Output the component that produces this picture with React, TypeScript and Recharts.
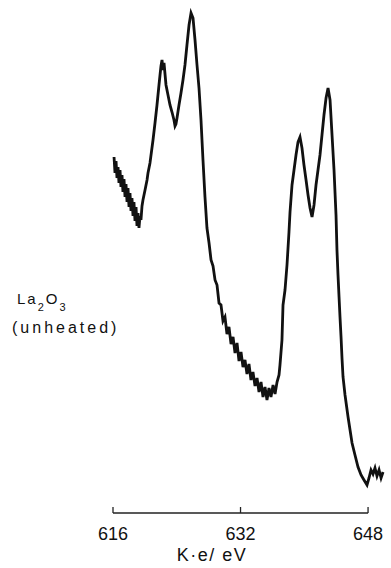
import { LineChart, Line, XAxis, YAxis, ReferenceLine } from "recharts";

// La 3d XPS region, kinetic energy (eV) against counts (arb. units)
const energy = [
  616.13, 616.25, 616.38, 616.5, 616.63, 616.75, 616.88, 617.0, 617.13, 617.25,
  617.38, 617.51, 617.63, 617.76, 617.88, 618.01, 618.13, 618.26, 618.38, 618.51,
  618.63, 618.76, 618.89, 619.01, 619.14, 619.26, 619.39, 619.51, 619.64, 619.76,
  620.02, 620.27, 620.39, 620.64, 621.02, 621.27, 621.52, 621.77, 621.9, 622.02,
  622.15, 622.27, 622.4, 622.65, 622.9, 623.15, 623.4, 623.65, 623.78, 623.9,
  624.03, 624.28, 624.53, 624.78, 625.03, 625.28, 625.54, 625.79, 626.04, 626.29,
  626.54, 626.79, 627.04, 627.29, 627.54,
  627.79, 628.05, 628.3, 628.55, 628.8, 629.05, 629.3, 629.55, 629.8, 630.05,
  630.3, 630.55, 630.81, 631.06, 631.31, 631.56, 631.81, 632.06, 632.31, 632.56,
  632.81, 633.06, 633.31, 633.56, 633.82, 634.07, 634.32, 634.57, 634.82, 635.07,
  635.32, 635.57, 635.82, 636.08, 636.33, 636.58, 636.83,
  636.95, 637.2, 637.33, 637.58, 637.83, 638.08,
  638.21, 638.46, 638.71, 638.96, 639.21, 639.46, 639.71, 639.96, 640.22, 640.47,
  640.72, 640.97, 641.22, 641.47, 641.72, 641.97, 642.22, 642.47, 642.73, 642.98,
  643.23, 643.48, 643.73, 643.98, 644.1, 644.23, 644.36, 644.48, 644.61, 644.73,
  644.86, 645.11, 645.49, 645.74, 645.99, 646.36, 646.74, 647.12, 647.49, 647.87,
  648.12, 648.37, 648.62, 648.87, 649.12, 649.38, 649.63, 649.88,
];

const counts = [
  356, 340, 352, 335, 346, 330, 343, 326, 338, 321,
  334, 316, 329, 311, 325, 306, 320, 302, 315, 297,
  311, 292, 306, 287, 300, 285, 297, 293, 307, 313,
  323, 333, 340, 350, 373, 390, 408, 428, 438, 447,
  453, 443, 450, 428, 418, 408, 401, 393, 387, 389,
  395, 408, 420, 433, 448, 468, 488, 500, 495, 473,
  448, 425, 393, 353, 316,
  285, 270, 253, 247, 233, 228, 210, 208, 192, 196,
  179, 186, 169, 176, 160, 170, 152, 161, 146, 153,
  139, 149, 133, 141, 127, 135, 121, 131, 116, 126,
  113, 125, 116, 128, 119, 131, 138,
  148, 173, 208, 223, 248, 281,
  301, 328, 343, 358, 371, 376, 365, 348, 333, 318,
  305, 296, 308, 328, 343, 358, 378, 398, 415, 425,
  413, 378, 343, 298, 263, 238, 216, 196, 176, 155,
  136, 118, 96, 83, 70, 58, 46, 38, 33, 28,
  35, 43, 39, 45, 37, 43, 35, 41,
];

const ticks = [616, 632, 648];

const data = energy.map((e, i) => ({ e, c: counts[i] }));

const font = "'Liberation Sans', Arial, sans-serif";

function Tick({ x, y, payload }: any) {
  return (
    <g>
      <line x1={x} y1={y} x2={x} y2={y - 6} stroke="#222" strokeWidth={1.3} />
      <text x={x} y={y + 27} textAnchor="middle" fontSize={18} fontFamily={font} fill="#111">
        {payload.value}
      </text>
    </g>
  );
}

export default function App() {
  return (
    <div style={{ position: "absolute", left: 0, top: 0, width: 391, height: 568, background: "#fff" }}>
      <LineChart width={391} height={568} data={data} margin={{ top: 8, right: 7, left: 113, bottom: 0 }}>
        <XAxis
          dataKey="e"
          type="number"
          domain={[616, 650]}
          ticks={ticks}
          axisLine={false}
          tickLine={false}
          tickSize={0}
          tickMargin={0}
          tick={<Tick />}
          height={55}
          interval={0}
        />
        <YAxis hide domain={[0, 505]} />
        <ReferenceLine
          segment={[{ x: 616, y: 0 }, { x: 648, y: 0 }]}
          stroke="#222"
          strokeWidth={1.3}
        />
        <Line
          type="linear"
          dataKey="c"
          stroke="#111"
          strokeWidth={2.8}
          dot={false}
          isAnimationActive={false}
        />
      </LineChart>
      <svg width={391} height={568} style={{ position: "absolute", left: 0, top: 0, pointerEvents: "none" }}>
        <text x={17} y={304} fontSize={15} fontFamily={font} fill="#111" letterSpacing={2}>
          La
          <tspan fontSize={11} dy={7}>2</tspan>
          <tspan fontSize={15} dy={-7}>O</tspan>
          <tspan fontSize={11} dy={7}>3</tspan>
        </text>
        <text x={12} y={333} fontSize={16} fontFamily={font} fill="#111" letterSpacing={3}>
          (unheated)
        </text>
        <text x={212} y={561} textAnchor="middle" fontSize={18} fontFamily={font} fill="#111" letterSpacing={1.5}>
          K·e/ eV
        </text>
      </svg>
    </div>
  );
}
